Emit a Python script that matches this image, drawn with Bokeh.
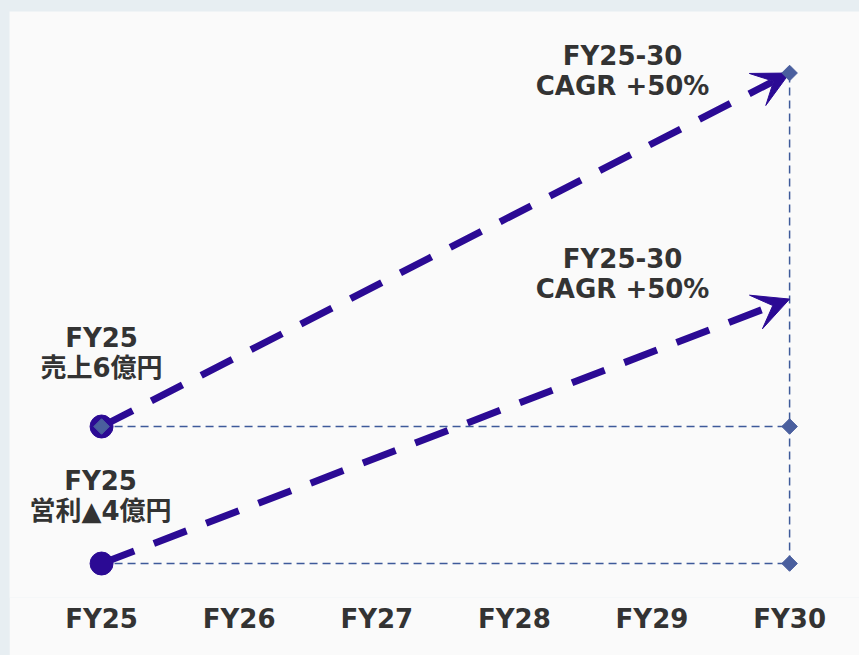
import math
from bokeh.plotting import figure
from bokeh.models import Range1d, ColumnDataSource, Arrow, VeeHead, FixedTicker
from bokeh.layouts import column
from bokeh.embed import file_html
from bokeh.resources import INLINE
from bokeh.core.properties import value

# ---- data (y is the chart's relative scale) ----
years = ["FY25", "FY26", "FY27", "FY28", "FY29", "FY30"]
x_pos = [0, 1, 2, 3, 4, 5]
sales_level = [1.0, 3.58]      # FY25 start, FY30 end
profit_level = [0.0, 1.93]     # FY25 start, FY30 end
start_labels = ["FY25\n売上6億円", "FY25\n営利▲4億円"]
cagr_labels = ["FY25-30\nCAGR +50%", "FY25-30\nCAGR +50%"]

INDIGO = "#2B0A94"
GUIDE = "#3E5A9A"
DIAMOND = "#4A5F9E"
TEXT = "#333333"
FONT = "'DejaVu Sans', 'Noto Sans CJK JP'"

p = figure(width=850, height=644,
           x_range=Range1d(-0.669, 5.508), y_range=Range1d(-0.248, 4.029),
           output_backend="svg", toolbar_location=None,
           y_axis_location=None,
           min_border_left=0, min_border_right=0, min_border_top=0,
           min_border_bottom=58)
p.margin = (11, 0, 0, 9)
p.background_fill_color = "#FAFAFA"
p.border_fill_color = "#FAFAFA"
p.outline_line_color = None
p.xgrid.visible = False
p.ygrid.visible = False

ax = p.xaxis[0]
ax.ticker = FixedTicker(ticks=x_pos)
ax.major_label_overrides = {x: y for x, y in zip(x_pos, years)}
ax.axis_line_color = None
ax.major_tick_line_color = None
ax.minor_tick_line_color = None
ax.major_label_standoff = 0
ax.major_label_text_font = FONT
ax.major_label_text_font_style = "bold"
ax.major_label_text_font_size = "26px"
ax.major_label_text_color = TEXT

x0, x1 = x_pos[0], x_pos[-1]

# thin guide lines
p.line(x=[x0, x1], y=[sales_level[0], sales_level[0]], line_color=GUIDE,
       line_width=1.5, line_dash="8 5")
p.line(x=[x0, x1], y=[profit_level[0], profit_level[0]], line_color=GUIDE,
       line_width=1.5, line_dash="8 5")
p.line(x=[x1, x1], y=[profit_level[0], sales_level[1]], line_color=GUIDE,
       line_width=1.5, line_dash="8 5")

# growth arrows
for lv in (sales_level, profit_level):
    arr = Arrow(end=VeeHead(size=36, fill_color=INDIGO, line_color=INDIGO, line_width=1),
                x_start=x0, y_start=lv[0], x_end=x1, y_end=lv[1],
                line_color=INDIGO, line_width=7, line_dash="35 21")
    p.add_layout(arr)

# start marker (sales) below diamonds
r1 = p.scatter(x=[x0], y=[sales_level[0]], size=23, fill_color=INDIGO, line_color=INDIGO)
r1.level = "overlay"
r2 = p.scatter(x=[x0, x1, x1, x1],
               y=[sales_level[0], sales_level[1], sales_level[0], profit_level[0]],
               marker="square", angle=math.pi / 4, size=11,
               fill_color=DIAMOND, line_color=DIAMOND)
r2.level = "overlay"
r3 = p.scatter(x=[x0], y=[profit_level[0]], size=23, fill_color=INDIGO, line_color=INDIGO)
r3.level = "overlay"

# labels
lab = ColumnDataSource(dict(
    x=[x0, x0, x1, x1],
    y=[sales_level[0], profit_level[0], sales_level[1], profit_level[1]],
    text=start_labels + cagr_labels,
    dx=[0, -1, -167, -167],
    dy=[-74, -67.5, -2.5, -25],
))
p.text(x="x", y="y", text="text", x_offset="dx", y_offset="dy", source=lab,
       text_align="center", text_baseline="middle",
       text_font=value(FONT), text_font_style="bold", text_font_size="26px",
       text_color=TEXT, text_line_height=1.0)

layout = column(p, styles={"background-color": "#E7EEF2"})
open("out.html", "w").write(file_html(layout, INLINE))
